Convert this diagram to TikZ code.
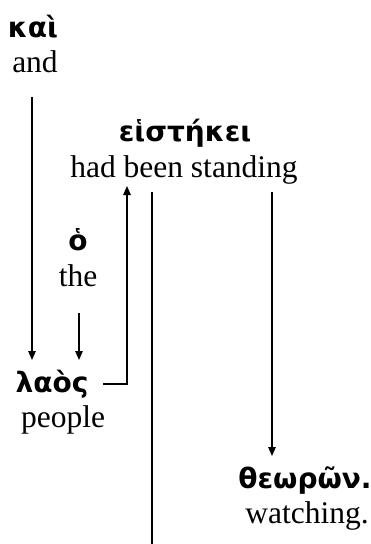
\documentclass[tikz,border=0pt]{standalone}
\usepackage{fontspec}
\setmainfont{Liberation Serif}
\newfontfamily\gk{DejaVu Sans}
\usetikzlibrary{arrows.meta}
\tikzset{
  gr/.style={font=\gk\bfseries\fontsize{28}{30}\selectfont, inner sep=0pt, anchor=base},
  en/.style={font=\fontsize{31.5}{34}\selectfont, inner sep=0pt, anchor=base},
  conn/.style={line width=1.3pt},
  arr/.style={conn, -{Triangle[length=9pt,width=7.5pt]}}
}
\begin{document}
\begin{tikzpicture}[x=1pt,y=-1pt]
\useasboundingbox (0,0) rectangle (371,544);
% words
\node[gr] (kai) at (33,37) {καὶ};
\node[en] (and) at (35,72) {and};
\node[gr] (eist) at (185,141) {εἱστήκει};
\node[en] (hbs) at (184,177) {had been standing};
\node[gr] (ho) at (78,250) {ὁ};
\node[en] (the) at (78,286) {the};
\node[gr] (laos) at (52,392) {λαὸς};
\node[en] (people) at (63,427) {people};
\node[gr] (theo) at (305,488) {θεωρῶν.};
\node[en] (watch) at (307,523) {watching.};
% connector points
\coordinate (k1) at (32,97);
\coordinate (k2) at (32,360);
\coordinate (h1) at (79,313);
\coordinate (h2) at (79,360);
\coordinate (l1) at (103,384);
\coordinate (l2) at (127,384);
\coordinate (l3) at (127,186);
\coordinate (v1) at (152,192);
\coordinate (v2) at (152,544);
\coordinate (t1) at (272,192);
\coordinate (t2) at (272,456);
% connectors
\draw[arr] (k1) -- (k2);
\draw[arr] (h1) -- (h2);
\draw[arr] (l1) -- (l2) -- (l3);
\draw[conn] (v1) -- (v2);
\draw[arr] (t1) -- (t2);
\end{tikzpicture}
\end{document}
